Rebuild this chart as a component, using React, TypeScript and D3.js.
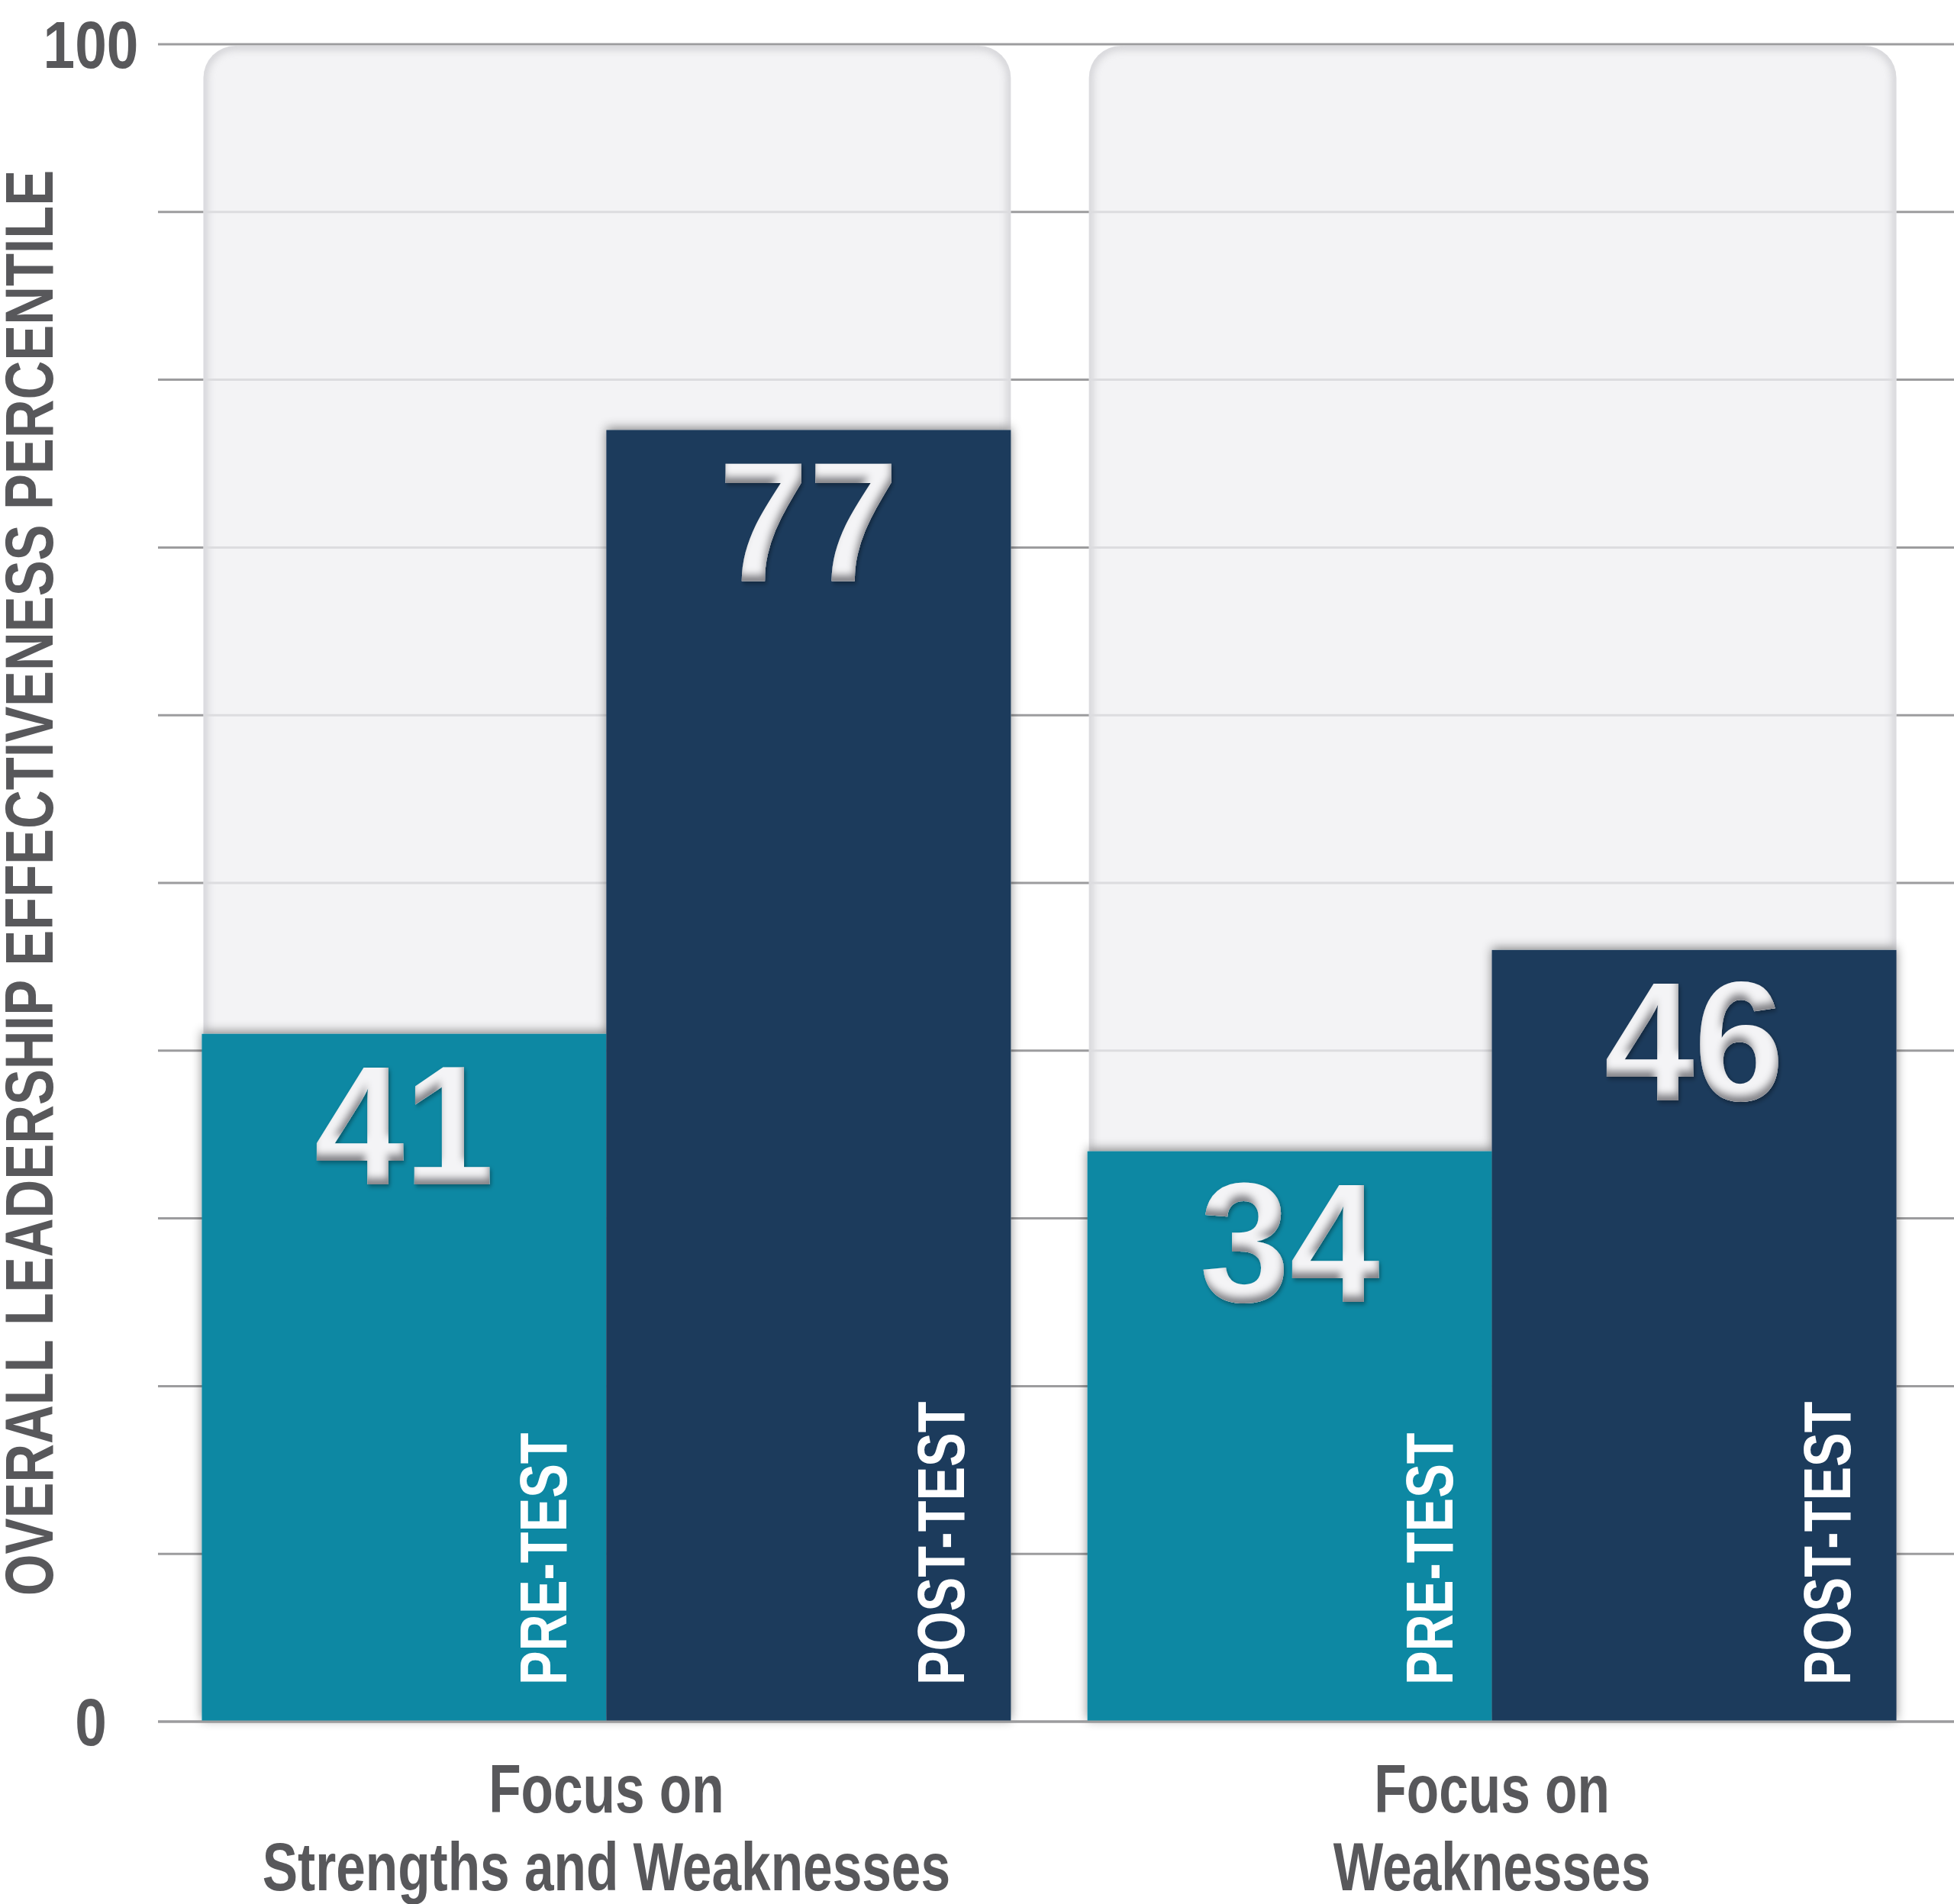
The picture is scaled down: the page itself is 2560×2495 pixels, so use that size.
import React from 'react';
import * as d3 from 'd3';

// ---- Data ----
const groups = ['Strengths and Weaknesses', 'Weaknesses'];
const groupLabelLines = [
  ['Focus on', 'Strengths and Weaknesses'],
  ['Focus on', 'Weaknesses'],
];
const seriesNames = ['PRE-TEST', 'POST-TEST'];
const preTest = [41, 34];
const postTest = [77, 46];
const yTicks = [0, 10, 20, 30, 40, 50, 60, 70, 80, 90, 100];
const yTickLabels = ['0', '100'];
const yAxisTitle = 'OVERALL LEADERSHIP EFFECTIVENESS PERCENTILE';

// ---- Styles ----
const W = 2560;
const H = 2495;
const FONT = '"Liberation Sans", Arial, Helvetica, sans-serif';
const TEXT_GRAY = '#58585b';
const seriesColors = ['#0b88a3', '#1e3a5b'];

export default function App() {
  const plotTop = 58;
  const plotBottom = 2256;
  const plotLeft = 264.5;
  const plotRight = 2484.5;
  const gridLeft = 207;

  const y = d3.scaleLinear().domain([0, 100]).range([plotBottom, plotTop]);
  const x0 = d3.scaleBand<string>().domain(groups).range([plotLeft, plotRight]).paddingInner(0.0865).paddingOuter(0);
  const x1 = d3.scaleBand<string>().domain(seriesNames).range([0, x0.bandwidth()]).padding(0);

  const values = [preTest, postTest];
  const r = 42;
  const panelPath = (a: number, b: number, top: number, bottom: number) => {
    const p = d3.path();
    p.moveTo(a, bottom);
    p.lineTo(a, top + r);
    p.arcTo(a, top, a + r, top, r);
    p.lineTo(b - r, top);
    p.arcTo(b, top, b, top + r, r);
    p.lineTo(b, bottom);
    p.closePath();
    return p.toString();
  };

  const condensed = 0.78;

  return (
    <svg width={W} height={H} style={{ position: 'absolute', left: 0, top: 0, background: '#fff' }} fontFamily={FONT}>
      <defs>
        <filter id="barShadow" x="-10%" y="-10%" width="120%" height="120%">
          <feDropShadow dx="0" dy="-3" stdDeviation="7" floodColor="#000" floodOpacity="0.45" />
        </filter>
        <filter id="panelBlur" x="-5%" y="-5%" width="110%" height="110%">
          <feGaussianBlur stdDeviation="5" />
        </filter>
        <filter id="emboss" x="-20%" y="-20%" width="140%" height="140%">
          <feOffset in="SourceAlpha" dx="-2" dy="-9" result="off" />
          <feGaussianBlur in="off" stdDeviation="5" result="offBlur" />
          <feComposite in="SourceAlpha" in2="offBlur" operator="out" result="edge" />
          <feFlood floodColor="#85858a" result="col" />
          <feComposite in="col" in2="edge" operator="in" result="inner" />
          <feGaussianBlur in="SourceAlpha" stdDeviation="3" result="sb" />
          <feOffset in="sb" dx="2" dy="3" result="sbo" />
          <feFlood floodColor="#000" floodOpacity="0.35" result="sc" />
          <feComposite in="sc" in2="sbo" operator="in" result="outer" />
          <feMerge>
            <feMergeNode in="outer" />
            <feMergeNode in="SourceGraphic" />
            <feMergeNode in="inner" />
          </feMerge>
        </filter>
        {groups.map((g, i) => (
          <clipPath id={`panelClip${i}`} key={g}>
            <path d={panelPath(x0(g)! + 2, x0(g)! + x0.bandwidth(), y(100) + 2, y(0))} />
          </clipPath>
        ))}
      </defs>

      {/* outer gridlines */}
      {yTicks.map((t) => (
        <line key={`g${t}`} x1={gridLeft} x2={W} y1={y(t)} y2={y(t)} stroke="#9c9c9e" strokeWidth={3} />
      ))}

      {/* background panels */}
      {groups.map((g, i) => {
        const a = x0(g)! + 2;
        const b = x0(g)! + x0.bandwidth();
        const d = panelPath(a, b, y(100) + 2, y(0));
        return (
          <g key={`p${g}`}>
            <path d={d} fill="#f3f3f5" />
            <g clipPath={`url(#panelClip${i})`}>
              <path d={d} fill="none" stroke="#c9c9cd" strokeWidth={12} filter="url(#panelBlur)" opacity={0.7} />
              {yTicks.filter((t) => t > 0 && t < 100).map((t) => (
                <line key={t} x1={a} x2={b} y1={y(t)} y2={y(t)} stroke="#dcdcdf" strokeWidth={3} />
              ))}
            </g>
          </g>
        );
      })}

      {/* bars */}
      {groups.map((g, gi) => (
        <g key={`b${g}`} filter="url(#barShadow)">
          {seriesNames.map((s, si) => {
            const v = values[si][gi];
            return (
              <rect
                key={s}
                x={x0(g)! + x1(s)!}
                y={y(v)}
                width={x1.bandwidth()}
                height={y(0) - y(v)}
                fill={seriesColors[si]}
              />
            );
          })}
        </g>
      ))}

      {/* zero line on top */}
      <line x1={gridLeft} x2={W} y1={y(0)} y2={y(0)} stroke="#9c9c9e" strokeWidth={3} />

      {/* value labels */}
      {groups.map((g, gi) =>
        seriesNames.map((s, si) => {
          const v = values[si][gi];
          const cx = x0(g)! + x1(s)! + x1.bandwidth() / 2;
          return (
            <text
              key={`v${g}${s}`}
              transform={`translate(${cx},${y(v) + 197}) scale(0.95,1)`}
              textAnchor="middle"
              fontSize={223}
              fontWeight="bold"
              fill="#f4f4f6"
              filter="url(#emboss)"
            >
              {v}
            </text>
          );
        })
      )}

      {/* series labels inside bars */}
      {groups.map((g, gi) =>
        seriesNames.map((s, si) => {
          const right = x0(g)! + x1(s)! + x1.bandwidth();
          const bx = right - (si === 0 ? 52 : 61);
          const by = y(0) - 48;
          return (
            <text
              key={`s${g}${s}`}
              transform={`translate(${bx},${by}) rotate(-90) scale(0.76,1)`}
              fontSize={88}
              fontWeight="bold"
              fill="#ffffff"
            >
              {s}
            </text>
          );
        })
      )}

      {/* y tick labels */}
      {[0, 100].map((t, i) => (
        <text
          key={`t${t}`}
          transform={`translate(119,${y(t) + 31}) scale(0.85,1)`}
          textAnchor="middle"
          fontSize={88}
          fontWeight="bold"
          fill={TEXT_GRAY}
        >
          {yTickLabels[i]}
        </text>
      ))}

      {/* y axis title */}
      <text
        transform={`translate(69,${(y(0) + y(100)) / 2}) rotate(-90) scale(0.79,1)`}
        textAnchor="middle"
        fontSize={89}
        fontWeight="bold"
        fill={TEXT_GRAY}
      >
        {yAxisTitle}
      </text>

      {/* category labels */}
      {groups.map((g, gi) =>
        groupLabelLines[gi].map((line, li) => (
          <text
            key={`c${g}${li}`}
            transform={`translate(${x0(g)! + x0.bandwidth() / 2},${y(0) + 119 + li * 102}) scale(${condensed},1)`}
            textAnchor="middle"
            fontSize={89}
            fontWeight="bold"
            fill={TEXT_GRAY}
          >
            {line}
          </text>
        ))
      )}
    </svg>
  );
}
